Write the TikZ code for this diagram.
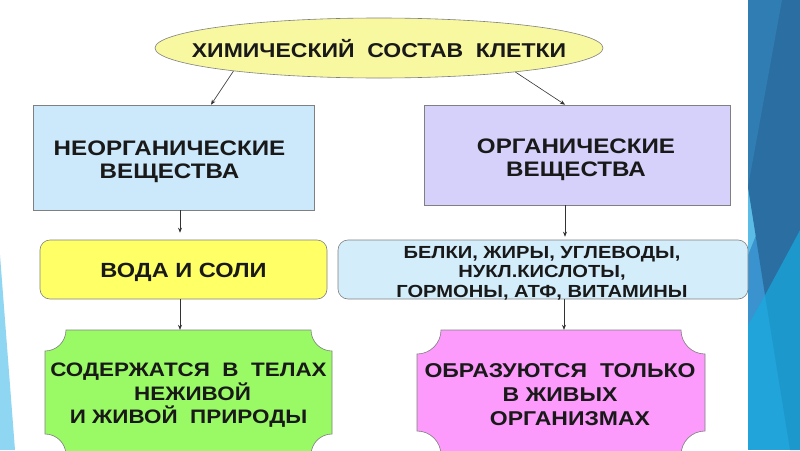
\documentclass[tikz,border=0pt]{standalone}
\usepackage{fontspec}
\setmainfont{Liberation Sans}
\newfontfamily\wfont[FakeStretch=1.15]{Liberation Sans}
\usetikzlibrary{shapes.geometric,arrows.meta}
\definecolor{titlefill}{RGB}{248,248,160}
\definecolor{inorgfill}{RGB}{204,232,251}
\definecolor{orgfill}{RGB}{213,209,250}
\definecolor{waterfill}{RGB}{255,255,102}
\definecolor{listfill}{RGB}{211,237,251}
\definecolor{greenfill}{RGB}{153,250,102}
\definecolor{pinkfill}{RGB}{252,155,252}
\definecolor{edgegray}{RGB}{128,128,128}
\definecolor{stripecyan}{RGB}{32,164,218}
\definecolor{stripecyandk}{RGB}{29,152,204}
\definecolor{stripedark}{RGB}{43,110,162}
\definecolor{stripemid}{RGB}{47,125,179}
\definecolor{stripelight}{RGB}{58,146,206}
\definecolor{stripepale}{RGB}{91,189,230}
\definecolor{lefttri}{RGB}{143,214,242}
\newcommand\plaquepath[6]{%
  \draw[draw=edgegray,line width=0.6pt,fill=#6]
    (#1+#5,#2) -- (#3-#5,#2) arc[start angle=180,end angle=90,radius=#5]
    -- (#3,#4-#5) arc[start angle=270,end angle=180,radius=#5]
    -- (#1+#5,#4) arc[start angle=0,end angle=-90,radius=#5]
    -- (#1,#2+#5) arc[start angle=90,end angle=0,radius=#5] -- cycle;}
\tikzset{
  boxtext/.style={font=\wfont\bfseries\fontsize{20.5}{23.5}\selectfont, align=center, text=black!90, inner sep=0pt},
  plainbox/.style={draw=edgegray, line width=0.6pt, rectangle, inner sep=0pt},
  arr/.style={-{Stealth[length=5pt,width=4pt]}, line width=0.6pt, draw=black!80},
}
\begin{document}
\begin{tikzpicture}[x=1pt,y=-1pt]
\useasboundingbox (0,0) rectangle (800,450);
\fill[white] (0,0) rectangle (800,450);
% decorative stripes
\fill[lefttri] (0,255) -- (15,450) -- (0,450) -- cycle;
\fill[stripecyan] (748,0) rectangle (800,450);
\fill[stripecyandk] (765,295) -- (800,230) -- (800,450) -- (790,450) -- cycle;
\fill[stripelight] (748,187) -- (765,295) -- (748,325) -- cycle;
\fill[stripepale] (748,187) -- (756,235) -- (748,255) -- cycle;
\fill[stripedark] (748,0) -- (800,0) -- (800,230) -- (765,295) -- (748,187) -- cycle;
\fill[stripemid] (748,0) -- (782,0) -- (748,187) -- cycle;
% title
\node[ellipse, draw=edgegray, line width=0.6pt, fill=titlefill, minimum width=448pt, minimum height=60pt, inner sep=0pt] (title) at (379,48) {};
\node[boxtext, font=\wfont\bfseries\fontsize{20}{22}\selectfont] (titletext) at ([yshift=-1pt]title.center) {ХИМИЧЕСКИЙ\ \ СОСТАВ\ \ КЛЕТКИ};
% level 1
\node[plainbox, fill=inorgfill, minimum width=281pt, minimum height=105pt] (inorg) at (173.5,157.5) {};
\node[boxtext, font=\wfont\bfseries\fontsize{21}{23.5}\selectfont] (inorgtext) at ([xshift=-4pt,yshift=-4.5pt]inorg.center) {НЕОРГАНИЧЕСКИЕ\\ВЕЩЕСТВА};
\node[plainbox, fill=orgfill, minimum width=306pt, minimum height=100pt] (org) at (577,155) {};
\node[boxtext, font=\wfont\bfseries\fontsize{21}{23.5}\selectfont] (orgtext) at ([xshift=-1pt,yshift=-5pt]org.center) {ОРГАНИЧЕСКИЕ\\ВЕЩЕСТВА};
% level 2
\node[plainbox, rounded corners=10pt, fill=waterfill, minimum width=287pt, minimum height=59pt] (water) at (183.5,269.5) {};
\node[boxtext] (watertext) at ([yshift=-3pt]water.center) {ВОДА И СОЛИ};
\node[plainbox, rounded corners=10pt, fill=listfill, minimum width=410pt, minimum height=59pt] (list) at (543,269.5) {};
\node[boxtext, font=\wfont\bfseries\fontsize{17.5}{19.5}\selectfont] (listtext) at ([xshift=-1pt,yshift=-3.5pt]list.center)
  {БЕЛКИ, ЖИРЫ, УГЛЕВОДЫ,\\НУКЛ.КИСЛОТЫ,\\ГОРМОНЫ, АТФ, ВИТАМИНЫ};
% level 3
\plaquepath{45}{330}{332}{455}{21}{greenfill}
\plaquepath{417}{330}{705}{455}{24}{pinkfill}
\node[minimum width=287pt, minimum height=125pt, inner sep=0pt] (living) at (188.5,392.5) {};
\node[boxtext, font=\wfont\bfseries\fontsize{19.5}{23.5}\selectfont] (livingtext) at ([yshift=-3pt]living.center)
  {СОДЕРЖАТСЯ\ \ В\ \ ТЕЛАХ\\\hspace*{8pt}НЕЖИВОЙ\\И ЖИВОЙ\ \ ПРИРОДЫ};
\node[minimum width=288pt, minimum height=125pt, inner sep=0pt] (onlyliving) at (561,392.5) {};
\node[boxtext, font=\wfont\bfseries\fontsize{20}{24}\selectfont] (onlylivingtext) at ([xshift=-1pt,yshift=-2.5pt]onlyliving.center)
  {ОБРАЗУЮТСЯ\hspace{13pt}ТОЛЬКО\\В ЖИВЫХ\\\hspace*{20pt}ОРГАНИЗМАХ};
% connectors
\draw[arr] (title.189) -- ([xshift=37.5pt]inorg.north);
\draw[arr] (title.-10) -- ([xshift=-12pt]org.north);
\draw[arr] ([xshift=6.5pt]inorg.south) -- ([xshift=-3.5pt,yshift=7pt]water.north);
\draw[arr] ([xshift=-12pt]org.south) -- ([xshift=22pt,yshift=3pt]list.north);
\draw[arr] ([xshift=-3.5pt]water.south) -- ([xshift=-8.5pt]living.north);
\draw[arr] ([xshift=21pt]list.south) -- ([xshift=3pt]onlyliving.north);
\end{tikzpicture}
\end{document}
